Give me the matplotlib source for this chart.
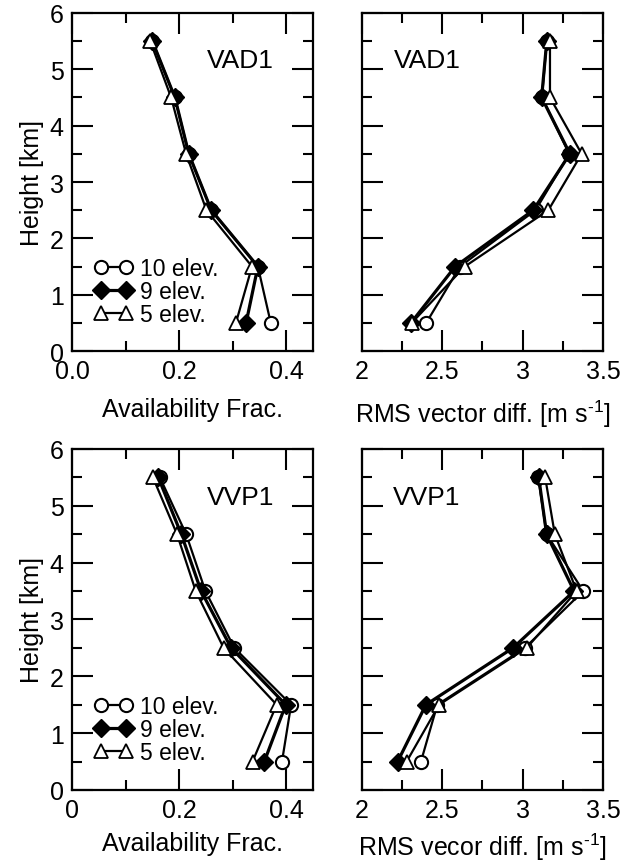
import matplotlib
matplotlib.use("Agg")
import matplotlib.pyplot as plt
from matplotlib.ticker import MultipleLocator, FuncFormatter

plt.rcParams.update({"font.family": ["Liberation Sans", "DejaVu Sans"],
                     "mathtext.fontset": "custom", "mathtext.rm": "Liberation Sans",
                     "mathtext.it": "Liberation Sans", "font.size": 18})

heights = [0.5, 1.5, 2.5, 3.5, 4.5, 5.5]
series_labels = ["10 elev.", "9 elev.", "5 elev."]

# VAD1
vad_avail_10 = [0.371, 0.347, 0.260, 0.218, 0.192, 0.150]
vad_avail_9 = [0.325, 0.347, 0.260, 0.218, 0.192, 0.150]
vad_avail_5 = [0.306, 0.336, 0.251, 0.213, 0.185, 0.146]
vad_rms_10 = [2.40, 2.61, 3.08, 3.29, 3.12, 3.15]
vad_rms_9 = [2.305, 2.58, 3.066, 3.294, 3.118, 3.15]
vad_rms_5 = [2.31, 2.64, 3.16, 3.367, 3.17, 3.17]

# VVP1
vvp_avail_10 = [0.392, 0.409, 0.303, 0.249, 0.213, 0.164]
vvp_avail_9 = [0.359, 0.399, 0.297, 0.241, 0.204, 0.161]
vvp_avail_5 = [0.337, 0.382, 0.283, 0.231, 0.196, 0.151]
vvp_rms_10 = [2.367, 2.469, 3.014, 3.377, 3.149, 3.097]
vvp_rms_9 = [2.222, 2.398, 2.94, 3.32, 3.149, 3.10]
vvp_rms_5 = [2.278, 2.48, 3.025, 3.336, 3.20, 3.14]

styles = [dict(marker="o", mfc="white", mec="black", lw=1.6, ms=9.5, mew=1.5),
          dict(marker="D", mfc="black", mec="black", lw=2.3, ms=9, mew=1.0),
          dict(marker="^", mfc="white", mec="black", lw=1.6, ms=10, mew=1.3)]

fig = plt.figure(figsize=(6.28, 8.62), dpi=100)
W = 0.3838
ax_tl = fig.add_axes([0.1147, 0.5916, W, 0.3922])
ax_tr = fig.add_axes([0.5764, 0.5916, W, 0.3922])
ax_bl = fig.add_axes([0.1147, 0.0824, W, 0.3956])
ax_br = fig.add_axes([0.5764, 0.0824, W, 0.3956])


def style_axis(ax, xlim, xmaj, xmin):
    ax.set_xlim(*xlim)
    ax.set_ylim(0, 6)
    ax.xaxis.set_major_locator(MultipleLocator(xmaj))
    ax.xaxis.set_minor_locator(MultipleLocator(xmin))
    ax.yaxis.set_major_locator(MultipleLocator(1))
    ax.yaxis.set_minor_locator(MultipleLocator(0.5))
    ax.tick_params(which="both", direction="in", top=True, right=True, width=1.5)
    ax.tick_params(which="major", length=15, pad=6, labelsize=18)
    ax.tick_params(which="minor", length=7.5)
    for s in ax.spines.values():
        s.set_linewidth(1.6)


panels = [(ax_tl, [vad_avail_10, vad_avail_9, vad_avail_5], "VAD1", True),
          (ax_tr, [vad_rms_10, vad_rms_9, vad_rms_5], "VAD1", False),
          (ax_bl, [vvp_avail_10, vvp_avail_9, vvp_avail_5], "VVP1", True),
          (ax_br, [vvp_rms_10, vvp_rms_9, vvp_rms_5], "VVP1", False)]

for ax, data, name, left in panels:
    for vals, st, lab in zip(data, styles, series_labels):
        ax.plot(vals, heights, color="black", label=lab, clip_on=False, **st)
    if left:
        style_axis(ax, (0, 0.45), 0.2, 0.1)
        ax.set_ylabel("Height [km]", fontsize=18, labelpad=4)
        ax.set_xlabel("Availability Frac.", fontsize=18, labelpad=10)
        ax.text(0.70, 0.86, name, transform=ax.transAxes, ha="center", va="center", fontsize=19)
        ax.legend(loc="lower left", bbox_to_anchor=(0.09, 0.075), frameon=False, numpoints=2,
                  handlelength=1.7, handletextpad=0.3, labelspacing=0.0, fontsize=16.5,
                  borderaxespad=0.0, borderpad=0.0)
    else:
        style_axis(ax, (2, 3.5), 0.5, 0.25)
        ax.tick_params(labelleft=False)
        ax.text(0.27, 0.86, name, transform=ax.transAxes, ha="center", va="center", fontsize=19)

ax_tl.xaxis.set_major_formatter(FuncFormatter(lambda v, p: f"{v:.1f}"))
ax_bl.xaxis.set_major_formatter(FuncFormatter(lambda v, p: "0" if abs(v) < 1e-9 else f"{v:.1f}"))
ax_tr.xaxis.set_major_formatter(FuncFormatter(lambda v, p: f"{v:g}"))
ax_br.xaxis.set_major_formatter(FuncFormatter(lambda v, p: f"{v:g}"))
ax_tr.set_xlabel("RMS vector diff. [m s$^{\u20101}$]", fontsize=18, labelpad=10)
ax_br.set_xlabel("RMS vecor diff. [m s$^{\u20101}$]", fontsize=18, labelpad=6)
ax_bl.xaxis.labelpad = 6

fig.savefig("out.png", dpi=100)
